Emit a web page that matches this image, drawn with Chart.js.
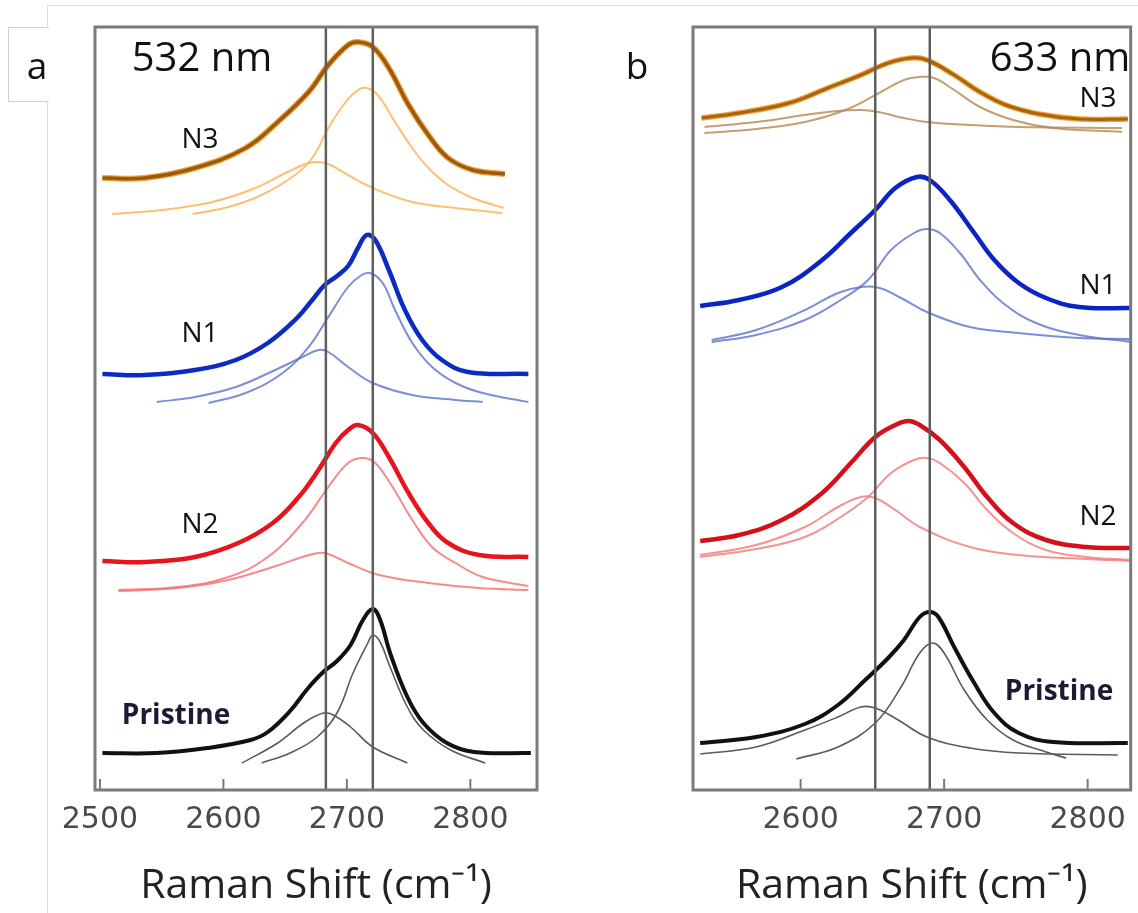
<!DOCTYPE html>
<html lang="en">
<head>
<meta charset="utf-8"/>
<title>Raman 2D band, 532 nm / 633 nm</title>
<script src="https://cdn.jsdelivr.net/npm/chart.js"></script>
<style>
  body { margin: 0; background: #fff; font-family: "Open Sans", sans-serif; }
  #fig { position: relative; width: 1138px; height: 913px; overflow: hidden; }
  #fig canvas { position: absolute; top: 0; }
  #sheet { position: absolute; left: 47px; top: 5px; right: -2px; bottom: -2px;
           border-left: 1px solid #dcdcdc; border-top: 1px solid #dcdcdc; }
  #tabA { position: absolute; left: 8px; top: 27px; width: 40px; height: 73px; background: #fff;
          border: 1px solid #d0d0d0; border-right: none; }
  .lbl { position: absolute; transform: translate(-50%, -50%); white-space: nowrap; color: #111; line-height: 1; }
  .big { font-size: 40px; }
  .panel { font-size: 37px; }
  .samp { font-size: 28px; }
  .pris { font-size: 28px; font-weight: 700; color: #1b1b36; }
</style>
</head>
<body>
<div id="fig">
  <div id="sheet"></div>
  <div id="tabA"></div>
  <canvas id="chart532" width="560" height="913" style="left:0"></canvas>
  <canvas id="chart633" width="538" height="913" style="left:600px"></canvas>

  <div class="lbl panel" style="left:37px; top:64px">a</div>
  <div class="lbl panel" style="left:637px; top:64px">b</div>
  <div class="lbl big" style="left:202px; top:56px">532 nm</div>
  <div class="lbl big" style="left:1060px; top:56px">633 nm</div>

  <div class="lbl samp" style="left:200px; top:137px">N3</div>
  <div class="lbl samp" style="left:200px; top:331px">N1</div>
  <div class="lbl samp" style="left:200px; top:522px">N2</div>
  <div class="lbl pris" style="left:176px; top:713px">Pristine</div>

  <div class="lbl samp" style="left:1098px; top:96px">N3</div>
  <div class="lbl samp" style="left:1098px; top:283px">N1</div>
  <div class="lbl samp" style="left:1098px; top:514px">N2</div>
  <div class="lbl pris" style="left:1059px; top:689px">Pristine</div>
</div>
<script>
  // axis ticks and fitted peak positions (cm-1)
  const ticks532 = [2500, 2600, 2700, 2800];
  const ticks633 = [2600, 2700, 2800];
  const peaks532 = [2683, 2721];
  const peaks633 = [2652, 2690];

  // ---- 532 nm spectra: [shift, offset intensity] ----
  const n3Sum532 = [[2502,612],[2536,612],[2577,622],[2618,642],[2644,668],[2669,698],[2685,725],[2701,745],[2709,748],[2721,743],[2734,722],[2750,685],[2766,655],[2782,632],[2802,620],[2828,616]];
  const n3PeakR532 = [[2575,576],[2604,583],[2631,595],[2658,615],[2672,632],[2685,662],[2699,688],[2709,700],[2716,702],[2725,695],[2739,668],[2753,642],[2766,622],[2782,605],[2802,592],[2827,582]];
  const n3PeakL532 = [[2510,576],[2550,580],[2591,588],[2626,602],[2652,618],[2669,627],[2677,628],[2685,626],[2701,615],[2721,602],[2753,588],[2788,582],[2826,577]];

  const n1Sum532 = [[2502,416],[2536,415],[2577,420],[2610,430],[2636,447],[2658,470],[2672,490],[2682,505],[2691,513],[2701,524],[2709,542],[2716,555],[2723,550],[2734,520],[2747,480],[2761,450],[2777,430],[2798,418],[2847,416]];
  const n1PeakR532 = [[2588,387],[2618,397],[2648,417],[2669,443],[2685,473],[2701,503],[2712,515],[2719,517],[2729,507],[2739,480],[2753,447],[2769,423],[2788,407],[2810,397],[2847,388]];
  const n1PeakL532 = [[2546,388],[2577,393],[2610,403],[2642,420],[2664,433],[2677,440],[2685,438],[2701,423],[2721,407],[2753,395],[2788,390],[2810,388]];

  const n2Sum532 = [[2502,229],[2536,228],[2577,233],[2612,247],[2640,267],[2661,293],[2677,320],[2691,347],[2701,360],[2709,365],[2721,357],[2734,333],[2750,297],[2766,267],[2782,247],[2807,235],[2847,233]];
  const n2PeakR532 = [[2515,200],[2563,203],[2604,213],[2636,233],[2664,267],[2685,303],[2701,327],[2713,332],[2723,327],[2737,303],[2753,270],[2769,243],[2788,227],[2810,213],[2847,204]];
  const n2PeakL532 = [[2515,199],[2563,202],[2604,210],[2640,223],[2664,233],[2677,237],[2685,236],[2701,227],[2726,215],[2766,207],[2807,202],[2847,200]];

  const prSum532 = [[2502,37],[2546,37],[2587,42],[2622,50],[2636,58],[2654,79],[2668,101],[2680,117],[2692,129],[2703,145],[2713,170],[2721,181],[2727,170],[2735,137],[2749,93],[2762,67],[2781,47],[2803,38],[2849,37]];
  const prPeakR532 = [[2631,27],[2654,37],[2676,53],[2692,77],[2705,117],[2717,147],[2721,155],[2727,148],[2735,123],[2749,83],[2762,60],[2784,40],[2812,27]];
  const prPeakL532 = [[2615,27],[2644,47],[2665,67],[2681,77],[2689,75],[2703,63],[2721,43],[2749,27]];

  // ---- 633 nm spectra ----
  const n3Sum633 = [[2531,672],[2557,677],[2592,687],[2619,702],[2642,715],[2661,727],[2677,732],[2688,730],[2707,715],[2725,698],[2743,685],[2766,676],[2794,671],[2828,671]];
  const n3PeakR633 = [[2533,657],[2569,661],[2603,668],[2633,681],[2656,698],[2672,710],[2683,713],[2693,712],[2707,700],[2725,683],[2748,670],[2776,662],[2824,658]];
  const n3PeakL633 = [[2533,663],[2569,668],[2603,675],[2626,679],[2642,680],[2654,678],[2672,672],[2688,668],[2718,665],[2752,663],[2824,662]];

  const n1Sum633 = [[2530,484],[2557,490],[2587,503],[2615,530],[2635,557],[2652,580],[2666,602],[2681,613],[2690,610],[2704,590],[2721,557],[2735,530],[2752,507],[2771,492],[2794,483],[2831,482]];
  const n1PeakR633 = [[2538,448],[2569,455],[2603,470],[2628,490],[2647,510],[2663,540],[2679,557],[2688,561],[2697,557],[2711,537],[2725,510],[2741,487],[2764,467],[2794,455],[2831,448]];
  const n1PeakL633 = [[2538,450],[2569,460],[2603,480],[2626,497],[2642,503],[2655,502],[2670,492],[2688,478],[2718,463],[2752,457],[2794,452],[2831,451]];

  const n2Sum633 = [[2530,249],[2557,255],[2587,270],[2615,297],[2635,327],[2652,353],[2666,365],[2675,369],[2683,365],[2697,350],[2714,323],[2730,293],[2748,267],[2771,250],[2799,243],[2831,242]];
  const n2PeakR633 = [[2530,233],[2569,241],[2603,253],[2628,273],[2647,293],[2663,317],[2679,330],[2688,332],[2697,327],[2714,307],[2730,280],[2748,257],[2771,240],[2799,233],[2831,230]];
  const n2PeakL633 = [[2530,235],[2569,245],[2603,263],[2626,283],[2642,293],[2652,292],[2666,280],[2683,263],[2718,243],[2752,235],[2799,231],[2831,229]];

  const prSum633 = [[2530,47],[2569,53],[2603,66],[2626,85],[2645,110],[2661,132],[2672,150],[2683,173],[2690,178],[2696,173],[2707,143],[2721,107],[2735,77],[2752,57],[2776,48],[2828,47]];
  const prPeakR633 = [[2597,31],[2626,43],[2652,67],[2670,103],[2683,137],[2692,147],[2700,137],[2714,100],[2730,70],[2748,50],[2771,38],[2785,32]];
  const prPeakL633 = [[2530,36],[2569,43],[2603,60],[2626,73],[2642,83],[2652,82],[2668,70],[2688,53],[2718,42],[2752,37],[2821,35]];

  Chart.defaults.font.family = '"Open Sans", sans-serif';

  function curve(pairs, color, width) {
    return {
      data: pairs.map(([x, y]) => ({ x, y })),
      borderColor: color,
      borderWidth: width,
      pointRadius: 0,
      fill: false,
      tension: 0.4
    };
  }

  function peakLine(x) {
    return { data: [{ x, y: 0 }, { x, y: 763 }], borderColor: '#5e5e5e', borderWidth: 2.5, pointRadius: 0 };
  }

  // box round the plot area plus short inward tick marks
  const frameTicks = {
    id: 'frameTicks',
    afterDraw(chart) {
      const { ctx, chartArea: a, scales: { x } } = chart;
      ctx.save();
      ctx.strokeStyle = '#7a7a7a';
      ctx.lineWidth = 3;
      ctx.strokeRect(a.left, a.top, a.right - a.left, a.bottom - a.top);
      ctx.lineWidth = 2;
      x.ticks.forEach(t => {
        const px = x.getPixelForValue(t.value);
        ctx.beginPath();
        ctx.moveTo(px, a.bottom);
        ctx.lineTo(px, a.bottom - 11);
        ctx.stroke();
      });
      ctx.restore();
    }
  };

  function makeChart(id, datasets, xmin, xmax, tickList, padL, padR) {
    return new Chart(document.getElementById(id), {
      type: 'line',
      data: { datasets },
      options: {
        responsive: false,
        animation: false,
        devicePixelRatio: 1,
        layout: { padding: { left: padL, right: padR, top: 27, bottom: 0 } },
        plugins: { legend: { display: false }, tooltip: { enabled: false } },
        scales: {
          y: { display: false, min: 0, max: 763 },
          x: {
            type: 'linear',
            min: xmin,
            max: xmax,
            grid: { display: false, drawTicks: false },
            border: { display: false },
            afterBuildTicks: s => { s.ticks = tickList.map(v => ({ value: v })); },
            afterFit: s => { s.height = 123; },
            ticks: {
              autoSkip: false,
              maxRotation: 0,
              padding: 12,
              color: '#4a4a4a',
              font: { family: '"DejaVu Sans", sans-serif', size: 30 },
              callback: v => String(v)
            },
            title: {
              display: true,
              text: 'Raman Shift (cm⁻¹)',
              color: '#222',
              font: { size: 41 },
              padding: { top: 0, bottom: 2 }
            }
          }
        }
      },
      plugins: [frameTicks]
    });
  }

  makeChart('chart532', [
    peakLine(peaks532[0]), peakLine(peaks532[1]),
    curve(n3Sum532, '#9a5a10', 3.5), curve(n3Sum532, '#f2a33c', 6),
    curve(n3PeakR532, 'rgba(252,176,80,0.8)', 2), curve(n3PeakL532, 'rgba(252,176,80,0.8)', 2),
    curve(n1Sum532, '#0b2cc0', 4.5),
    curve(n1PeakR532, 'rgba(80,105,200,0.75)', 2), curve(n1PeakL532, 'rgba(80,105,200,0.75)', 2),
    curve(n2Sum532, '#e8141c', 4.5),
    curve(n2PeakR532, 'rgba(242,110,110,0.8)', 2), curve(n2PeakL532, 'rgba(242,110,110,0.8)', 2),
    curve(prSum532, '#111', 4),
    curve(prPeakR532, '#5a5a5a', 1.6), curve(prPeakL532, '#5a5a5a', 1.6)
  ], 2496, 2854, ticks532, 95, 23);

  makeChart('chart633', [
    peakLine(peaks633[0]), peakLine(peaks633[1]),
    curve(n3Sum633, '#a8640f', 3), curve(n3Sum633, '#f0a035', 5.5),
    curve(n3PeakR633, 'rgba(180,135,80,0.8)', 2), curve(n3PeakL633, 'rgba(180,135,80,0.8)', 2),
    curve(n1Sum633, '#0a25c4', 4.5),
    curve(n1PeakR633, 'rgba(80,105,200,0.75)', 2), curve(n1PeakL633, 'rgba(80,105,200,0.75)', 2),
    curve(n2Sum633, '#d4101a', 4.5),
    curve(n2PeakR633, 'rgba(242,120,120,0.8)', 2), curve(n2PeakL633, 'rgba(242,120,120,0.8)', 2),
    curve(prSum633, '#111', 4),
    curve(prPeakR633, '#5a5a5a', 1.6), curve(prPeakL633, '#5a5a5a', 1.6)
  ], 2525, 2830, ticks633, 93, 2);
</script>
</body>
</html>
